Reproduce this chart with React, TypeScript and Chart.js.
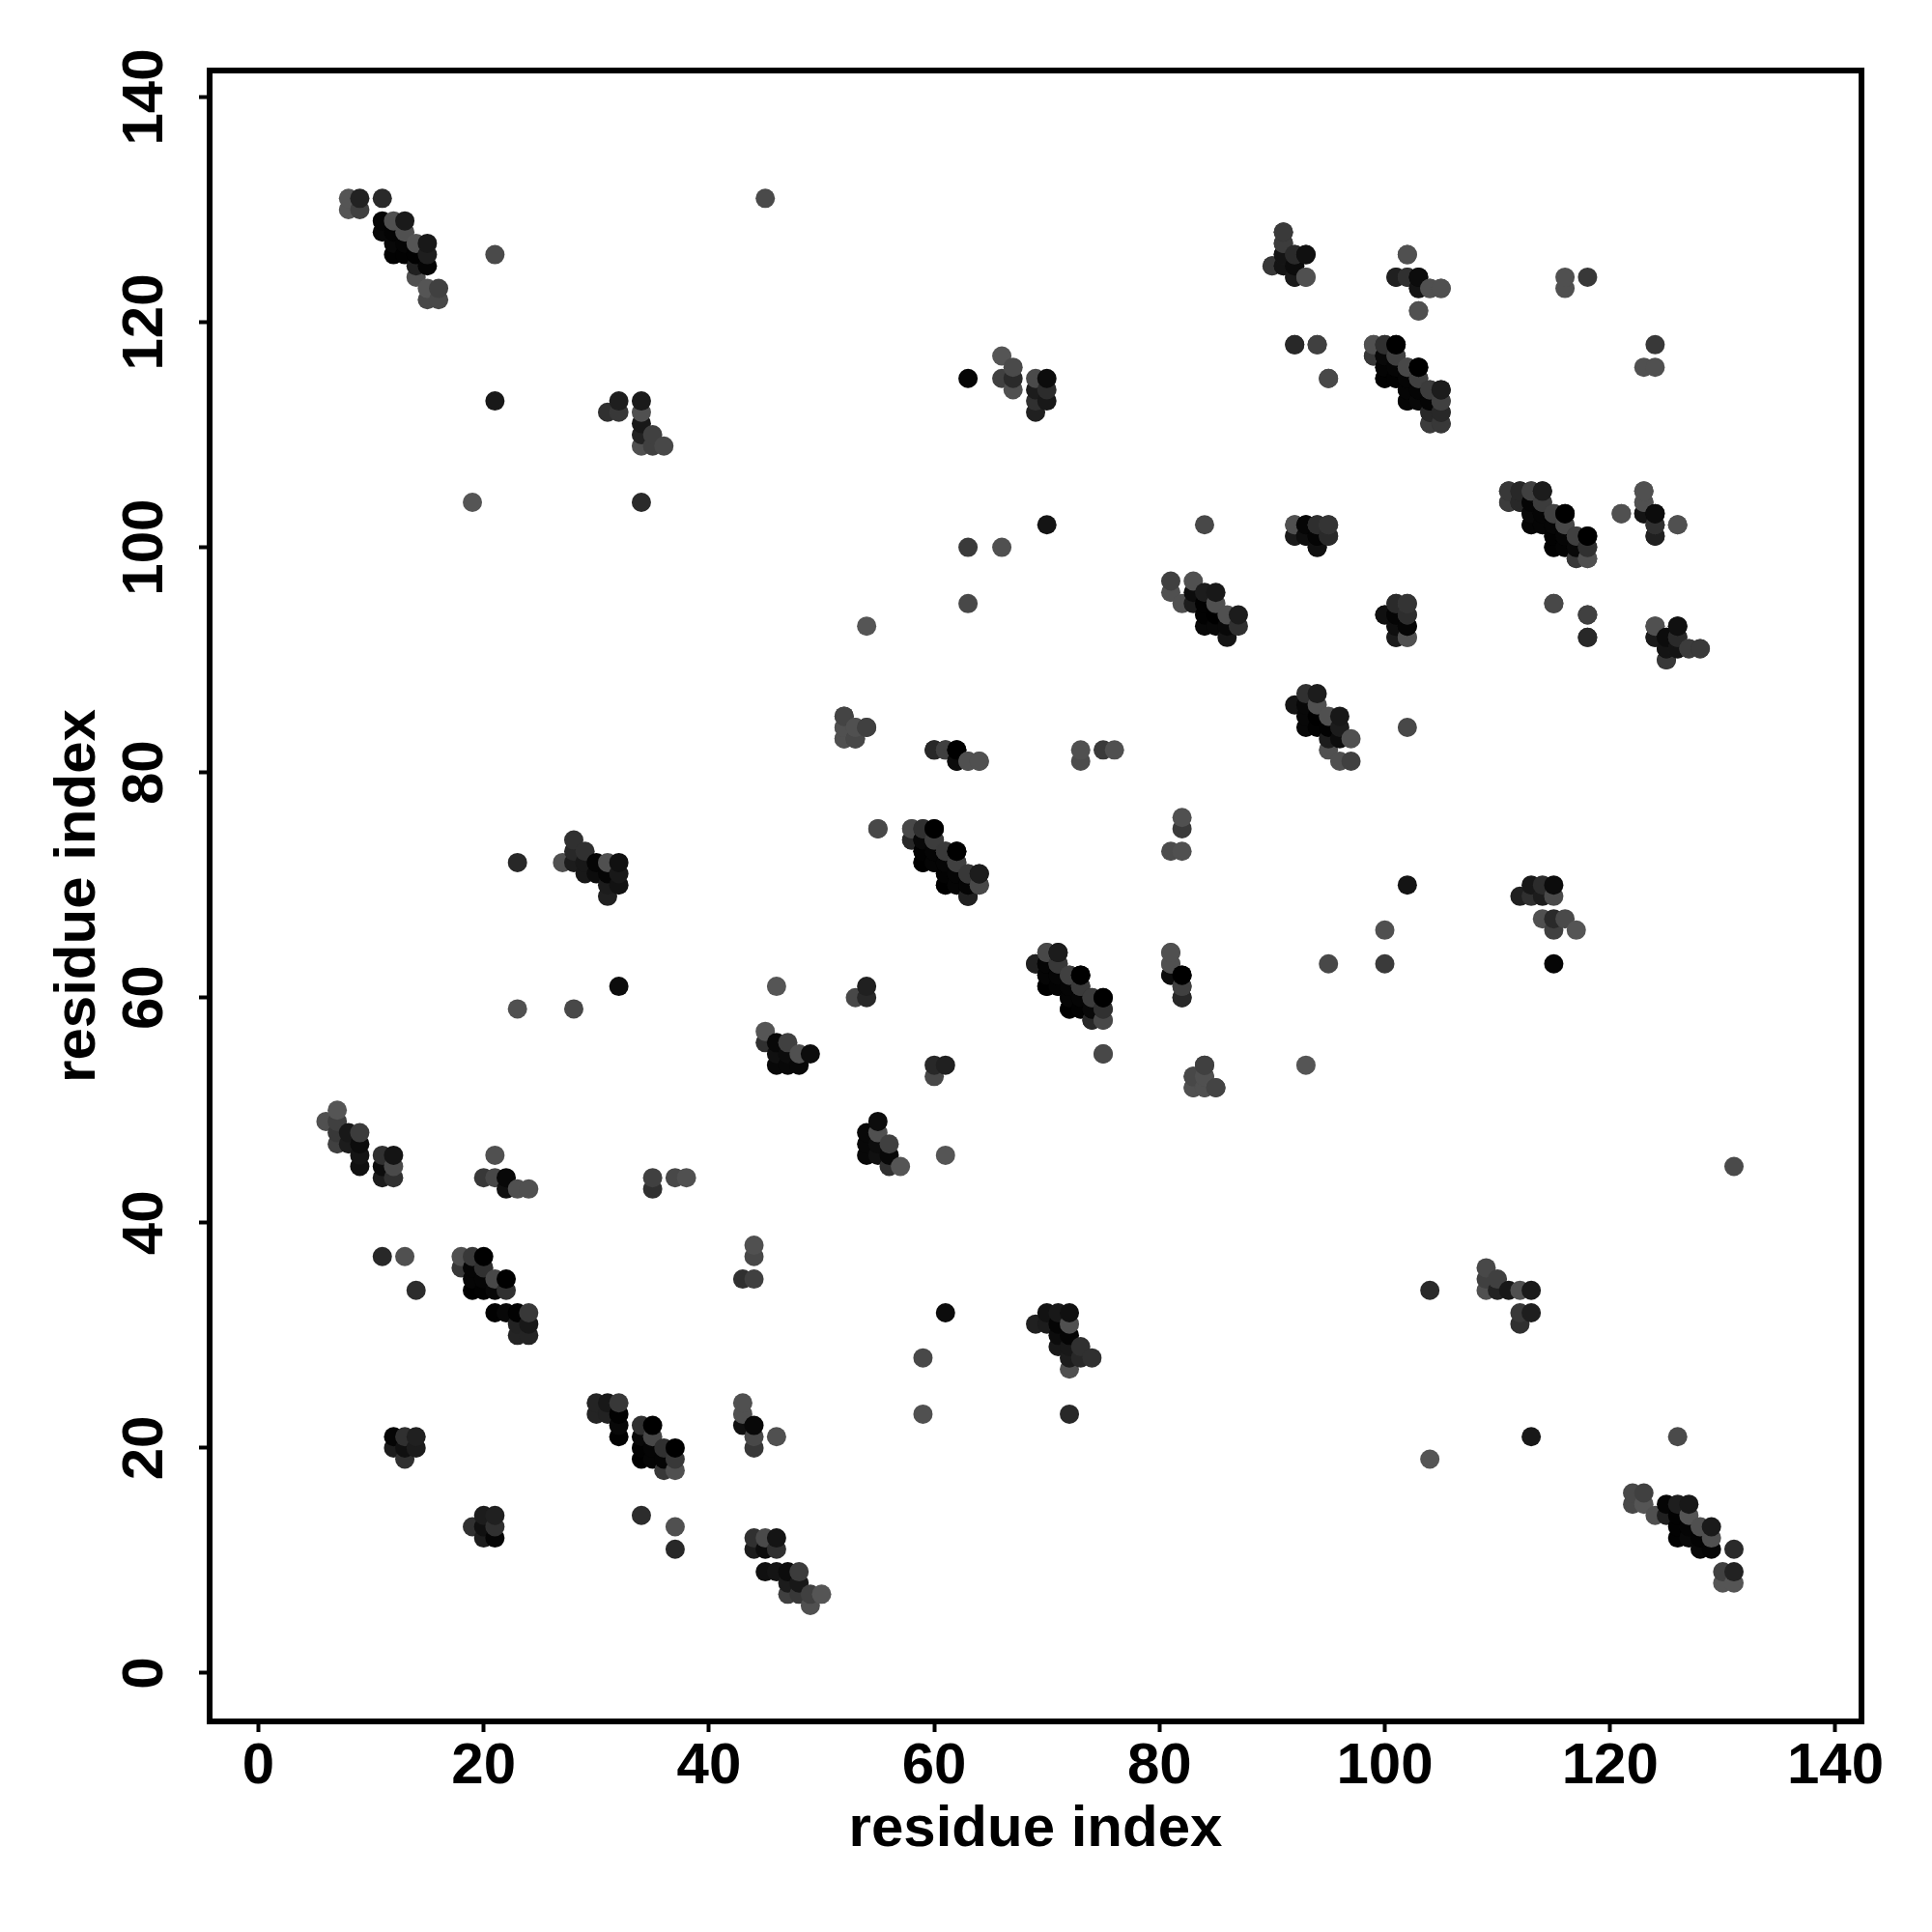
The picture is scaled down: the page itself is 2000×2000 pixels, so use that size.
import React, { useEffect, useRef } from "react";
import { Chart, registerables } from "chart.js";

Chart.register(...registerables);

// Contacts as [residue i, residue j, grey level]; the map is symmetric, so only i < j is listed.
const helixA: number[][] = [
  [8,130,0x55],[8,131,0x55],[9,130,0x40],[9,131,0x22],[11,131,0x2a],[11,129,0x05],[12,129,0x50],[13,129,0x1a],
  [11,128,0x08],[12,128,0x04],[13,128,0x50],[12,127,0x08],[13,127,0x05],[14,127,0x55],[15,127,0x18],
  [12,126,0x02],[13,126,0x02],[14,126,0x02],[15,126,0x1e],[14,125,0x20],[15,125,0x05],[14,124,0x50],
  [15,123,0x55],[16,123,0x40],[15,122,0x48],[16,122,0x48],
];
const groupB: number[][] = [
  [21,126,0x4a],[21,113,0x18],[19,104,0x55],[34,104,0x2a],[45,131,0x4a],
  [32,113,0x1e],[34,113,0x1a],[31,112,0x30],[32,112,0x38],[34,112,0x50],[34,111,0x18],[34,110,0x22],
  [35,110,0x40],[34,109,0x50],[35,109,0x40],[36,109,0x48],
];
const groupC: number[][] = [
  [63,115,0x05],[66,117,0x55],[67,116,0x4a],[66,115,0x40],[67,115,0x2a],[67,114,0x50],[69,115,0x4a],[70,115,0x0c],
  [69,114,0x1c],[70,114,0x2c],[69,113,0x30],[70,113,0x18],[69,112,0x20],[70,102,0x14],[63,100,0x3a],[66,100,0x50],
  [63,95,0x48],[54,93,0x55],
];
const groupD: number[][] = [
  [81,97,0x40],[81,96,0x50],[82,95,0x50],[83,97,0x50],[83,96,0x0c],[83,95,0x1c],[84,96,0x1c],[85,96,0x18],
  [84,95,0x02],[85,95,0x50],[84,94,0x02],[85,94,0x00],[86,94,0x50],[87,94,0x1c],[84,93,0x08],[85,93,0x08],
  [86,93,0x08],[87,93,0x30],[86,92,0x14],[84,102,0x48],
];
const groupE: number[][] = [
  [92,102,0x50],[93,102,0x08],[94,102,0x38],[95,102,0x3e],[92,101,0x14],[93,101,0x0a],[94,101,0x05],[95,101,0x2c],[94,100,0x10],
];
const groupF: number[][] = [
  [91,128,0x30],[91,127,0x3c],[91,126,0x20],[92,126,0x2c],[93,126,0x10],[90,125,0x30],[91,125,0x18],[92,125,0x14],
  [92,124,0x1c],[93,124,0x4e],[102,126,0x50],[101,124,0x22],[102,124,0x38],[103,124,0x08],[103,123,0x10],
  [104,123,0x4a],[105,123,0x50],[103,121,0x50],[92,118,0x22],[94,118,0x38],[95,115,0x44],
  [116,124,0x50],[116,123,0x50],[118,124,0x38],
];
const groupG: number[][] = [
  [99,118,0x50],[100,118,0x2c],[101,118,0x00],[99,117,0x3a],[100,117,0x05],[101,117,0x30],[100,116,0x05],[101,116,0x05],
  [102,116,0x40],[103,116,0x00],[100,115,0x00],[101,115,0x05],[102,115,0x05],[103,115,0x38],[102,114,0x05],[103,114,0x05],
  [104,114,0x3a],[105,114,0x1c],[102,113,0x00],[103,113,0x05],[104,113,0x08],[105,113,0x3a],[104,112,0x20],[105,112,0x28],
  [104,111,0x38],[105,111,0x30],
];
const groupH: number[][] = [
  [111,105,0x38],[112,105,0x28],[113,105,0x40],[114,105,0x1c],[111,104,0x3c],[112,104,0x28],[113,104,0x05],[114,104,0x3c],
  [113,103,0x08],[114,103,0x05],[115,103,0x40],[116,103,0x00],[113,102,0x05],[114,102,0x05],[115,102,0x05],[116,102,0x48],
  [115,101,0x02],[116,101,0x05],[117,101,0x40],[118,101,0x00],[115,100,0x02],[116,100,0x04],[117,100,0x08],[118,100,0x30],
  [117,99,0x38],[118,99,0x50],[121,103,0x50],[123,105,0x50],[123,104,0x50],[123,103,0x14],[124,103,0x0c],[124,102,0x30],
  [124,101,0x20],[126,102,0x50],[115,95,0x48],[118,94,0x40],[118,92,0x28],
];
const groupI: number[][] = [
  [124,93,0x50],[126,93,0x10],[124,92,0x1a],[125,92,0x0c],[126,92,0x2a],[125,91,0x14],[126,91,0x14],[127,91,0x3c],
  [128,91,0x3a],[125,90,0x38],
  [100,94,0x10],[101,95,0x2a],[102,95,0x34],[101,94,0x05],[102,94,0x2e],[101,93,0x0e],[102,93,0x06],[101,92,0x1a],[102,92,0x50],
];
const groupJ: number[][] = [
  [52,85,0x45],[52,84,0x50],[53,84,0x50],[54,84,0x40],[52,83,0x50],[53,83,0x40],
  [60,82,0x28],[61,82,0x40],[62,82,0x08],[62,81,0x10],[63,81,0x50],[64,81,0x50],
  [73,82,0x50],[73,81,0x4c],[75,82,0x3a],[76,82,0x50],[55,75,0x48],
];
const groupK: number[][] = [
  [58,75,0x48],[59,75,0x2e],[60,75,0x00],[58,74,0x28],[59,74,0x05],[60,74,0x30],[59,73,0x05],[60,73,0x05],[61,73,0x40],
  [62,73,0x00],[59,72,0x02],[60,72,0x02],[61,72,0x05],[62,72,0x3a],[61,71,0x04],[62,71,0x04],[63,71,0x40],[64,71,0x14],
  [61,70,0x00],[62,70,0x04],[63,70,0x04],[64,70,0x3a],[63,69,0x1c],[54,61,0x20],[54,60,0x28],[53,60,0x48],
];
const groupL: number[][] = [
  [70,64,0x48],[71,64,0x1c],[69,63,0x20],[70,63,0x05],[71,63,0x38],[70,62,0x05],[71,62,0x05],[72,62,0x40],[73,62,0x00],
  [70,61,0x00],[71,61,0x03],[72,61,0x05],[73,61,0x3a],[72,60,0x05],[73,60,0x05],[74,60,0x3c],[75,60,0x00],[72,59,0x00],
  [73,59,0x02],[74,59,0x08],[75,59,0x30],[74,58,0x28],[75,58,0x48],
  [81,64,0x50],[81,63,0x50],[81,62,0x0c],[82,62,0x00],[82,61,0x40],[82,60,0x28],[75,55,0x48],
  [84,54,0x40],[83,53,0x48],[84,53,0x50],[83,52,0x50],[84,52,0x50],[85,52,0x44],
];
const groupM: number[][] = [
  [6,49,0x50],[7,50,0x55],[7,49,0x40],[7,48,0x38],[7,47,0x40],[8,48,0x18],[8,47,0x1c],[9,48,0x3c],[9,47,0x0c],[9,46,0x14],
  [9,45,0x10],[11,46,0x30],[12,46,0x14],[11,45,0x0c],[12,45,0x4a],[11,44,0x1c],[12,44,0x30],
  [21,46,0x50],[20,44,0x38],[21,44,0x48],[22,44,0x08],[22,43,0x10],[23,43,0x50],[24,43,0x50],
  [35,44,0x40],[35,43,0x30],[37,44,0x48],[38,44,0x50],
];
const groupN: number[][] = [
  [11,37,0x28],[13,37,0x50],[14,34,0x2c],[18,37,0x50],[19,37,0x38],[20,37,0x00],[18,36,0x38],[19,36,0x05],[20,36,0x30],
  [19,35,0x05],[20,35,0x05],[21,35,0x48],[22,35,0x00],[19,34,0x00],[20,34,0x02],[21,34,0x08],[22,34,0x30],
  [21,32,0x02],[22,32,0x08],[23,32,0x02],[24,32,0x38],[23,31,0x22],[24,31,0x18],[23,30,0x24],[24,30,0x24],
];
const groupO: number[][] = [
  [27,72,0x50],[28,74,0x30],[28,73,0x28],[29,73,0x30],[28,72,0x1c],[29,72,0x18],[30,72,0x05],[31,72,0x50],[32,72,0x10],
  [29,71,0x18],[30,71,0x0c],[31,71,0x05],[32,71,0x18],[31,70,0x1c],[32,70,0x12],[31,69,0x20],[23,72,0x28],
  [32,61,0x0c],[28,59,0x48],[23,59,0x50],[46,61,0x55],
  [45,57,0x55],[45,56,0x30],[46,56,0x08],[47,56,0x40],[46,55,0x10],[47,55,0x0c],[48,55,0x50],[49,55,0x0c],
  [46,54,0x08],[47,54,0x08],[48,54,0x08],
];
const groupP: number[][] = [
  [12,21,0x05],[13,21,0x30],[14,21,0x20],[12,20,0x1c],[13,20,0x10],[14,20,0x1c],[13,19,0x30],
];

const contactGroups = [helixA, groupB, groupC, groupD, groupE, groupF, groupG, groupH, groupI, groupJ, groupK, groupL, groupM, groupN, groupO, groupP];
const tickStep = 20;
const axisLabel = "residue index";

const FONT = "'Liberation Sans', Arial, sans-serif";

const frame = {
  id: "frame",
  afterDatasetsDraw(chart: any) {
    const { ctx, chartArea: a } = chart;
    ctx.save();
    ctx.strokeStyle = "#000";
    ctx.lineWidth = 6;
    ctx.strokeRect(a.left, a.top, a.right - a.left, a.bottom - a.top);
    ctx.restore();
  },
};

export default function App() {
  const ref = useRef<HTMLCanvasElement>(null);
  useEffect(() => {
    document.body.style.margin = "0";
    const all: number[][] = [];
    for (const g of contactGroups) {
      for (const [i, j, s] of g) {
        all.push([i, j, s], [j, i, s]);
      }
    }
    all.sort((a, b) => a[0] - b[0] || a[1] - b[1]);
    const tickFont = { family: FONT, size: 60, weight: "bold" as const };
    const titleFont = { family: FONT, size: 60, weight: "bold" as const };
    const chart = new Chart(ref.current!, {
      type: "scatter",
      data: {
        datasets: [
          {
            data: all.map(([x, y]) => ({ x, y })),
            pointRadius: 10,
            pointHoverRadius: 10,
            pointBorderWidth: 0,
            pointBackgroundColor: all.map(([, , s]) => `rgb(${s},${s},${s})`),
            showLine: false,
          },
        ],
      },
      plugins: [frame],
      options: {
        animation: false,
        responsive: false,
        events: [],
        layout: { padding: { top: 73, right: 73, left: 45, bottom: 70 } },
        plugins: { legend: { display: false }, tooltip: { enabled: false } },
        scales: {
          x: {
            type: "linear",
            min: -4.33,
            max: 142.32,
            afterFit: (s: any) => { s.height = 148; },
            border: { display: false },
            grid: { drawOnChartArea: false, drawTicks: true, tickLength: 11, tickWidth: 4, tickColor: "#000" },
            ticks: { stepSize: tickStep, autoSkip: false, maxRotation: 0, minRotation: 0, color: "#000", font: tickFont, padding: 0, includeBounds: false },
            title: { display: true, text: axisLabel, color: "#000", font: titleFont, padding: { top: 4, bottom: 0 } },
          },
          y: {
            type: "linear",
            min: -4.295,
            max: 142.355,
            afterFit: (s: any) => { s.width = 172; },
            border: { display: false },
            grid: { drawOnChartArea: false, drawTicks: true, tickLength: 11, tickWidth: 4, tickColor: "#000" },
            ticks: { stepSize: tickStep, autoSkip: false, minRotation: 90, maxRotation: 90, crossAlign: "center", color: "#000", font: tickFont, padding: 4, includeBounds: false },
            title: { display: true, text: axisLabel, color: "#000", font: titleFont, padding: 0 },
          },
        },
      },
    });
    return () => chart.destroy();
  }, []);
  return <canvas ref={ref} width={2000} height={2000} style={{ display: "block", width: 2000, height: 2000 }} />;
}
